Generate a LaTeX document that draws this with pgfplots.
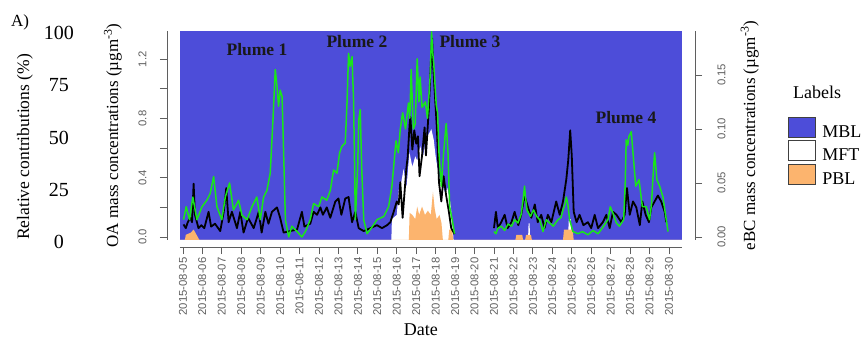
\documentclass[border=0pt]{standalone}
\usepackage{fontspec}
\setmainfont{Liberation Serif}
\setsansfont{Liberation Sans}
\usepackage{pgfplots}
\usepackage{pgfplotstable}
\pgfplotsset{compat=1.18}
\definecolor{mbl}{RGB}{77,77,217}
\definecolor{pbl}{RGB}{252,180,110}
\definecolor{ebc}{RGB}{25,230,25}
\definecolor{axg}{RGB}{95,95,95}

\pgfplotstableread{
d v
0.03 0.016
0.17 0.028
0.34 0.016
0.51 0.037
0.72 0.016
0.98 0.028
1.23 0.034
1.40 0.040
1.58 0.056
1.75 0.028
2.00 0.016
2.18 0.037
2.40 0.050
2.60 0.025
2.86 0.034
3.04 0.020
3.30 0.016
3.55 0.028
3.80 0.037
3.98 0.016
4.15 0.037
4.32 0.043
4.49 0.059
4.63 0.108
4.75 0.155
4.84 0.139
4.92 0.121
5.00 0.136
5.10 0.130
5.18 0.078
5.27 0.016
5.44 0.000
5.60 0.010
5.87 0.005
6.12 0.000
6.30 0.005
6.55 0.016
6.72 0.031
6.98 0.028
7.15 0.037
7.40 0.034
7.58 0.043
7.75 0.062
7.92 0.059
8.06 0.078
8.18 0.084
8.35 0.087
8.44 0.124
8.52 0.170
8.60 0.158
8.70 0.167
8.78 0.124
8.87 0.016
8.99 0.065
9.04 0.108
9.12 0.118
9.20 0.062
9.30 0.016
9.47 0.003
9.72 0.009
9.98 0.016
10.33 0.019
10.58 0.028
10.75 0.047
10.87 0.071
10.96 0.089
11.08 0.078
11.18 0.100
11.30 0.115
11.45 0.100
11.60 0.124
11.67 0.110
11.74 0.155
11.85 0.100
11.95 0.105
12.05 0.165
12.14 0.125
12.20 0.148
12.30 0.120
12.47 0.125
12.58 0.110
12.65 0.130
12.72 0.150
12.79 0.190
12.85 0.170
12.90 0.161
13.03 0.122
13.10 0.115
13.17 0.078
13.29 0.047
13.41 0.078
13.54 0.105
13.63 0.080
13.72 0.028
13.85 0.016
13.97 0.003
15.00 nan
16.00 0.005
16.10 0.003
16.20 0.008
16.37 0.010
16.55 0.006
16.72 0.012
16.90 0.010
17.06 0.016
17.23 0.013
17.40 0.021
17.50 0.035
17.57 0.047
17.63 0.035
17.70 0.025
17.87 0.019
18.03 0.025
18.20 0.019
18.35 0.016
18.52 0.005
18.69 0.016
18.86 0.013
19.05 0.010
19.29 0.016
19.45 0.018
19.55 0.025
19.65 0.030
19.72 0.037
19.80 0.030
19.89 0.016
20.06 0.005
20.32 0.003
20.55 0.005
20.83 0.002
21.09 0.006
21.35 0.003
21.60 0.009
21.86 0.016
21.98 0.028
22.12 0.022
22.29 0.013
22.45 0.010
22.67 0.016
22.75 0.050
22.80 0.090
22.88 0.085
22.94 0.093
23.06 0.0975
23.15 0.078
23.29 0.047
23.46 0.053
23.63 0.028
23.83 0.028
24.00 0.016
24.10 0.030
24.18 0.056
24.26 0.078
24.38 0.053
24.52 0.047
24.69 0.037
24.86 0.016
24.95 0.005
}\ebcdata

\pgfplotstableread{
d v
0.03 0.085
0.15 0.06
0.25 0.10
0.38 0.13
0.47 0.10
0.55 0.36
0.62 0.15
0.80 0.06
0.95 0.08
1.10 0.06
1.32 0.17
1.45 0.07
1.65 0.09
1.92 0.04
2.10 0.17
2.23 0.33
2.35 0.10
2.52 0.17
2.78 0.06
2.95 0.17
3.12 0.03
3.35 0.13
3.64 0.06
3.90 0.17
4.05 0.03
4.24 0.17
4.40 0.09
4.58 0.17
4.84 0.20
5.00 0.13
5.18 0.03
5.50 0.04
5.87 0.05
6.12 0.17
6.25 0.07
6.55 0.09
6.72 0.17
6.90 0.15
7.07 0.20
7.20 0.15
7.40 0.20
7.58 0.13
7.84 0.24
8.00 0.26
8.15 0.15
8.35 0.26
8.52 0.27
8.70 0.10
8.87 0.17
9.04 0.06
9.30 0.04
9.64 0.06
9.98 0.08
10.24 0.06
10.50 0.08
10.67 0.10
10.84 0.17
11.00 0.24
11.10 0.22
11.18 0.37
11.30 0.13
11.49 0.46
11.56 0.54
11.66 0.76
11.70 0.81
11.80 0.59
11.90 0.72
12.00 0.63
12.09 0.68
12.17 0.41
12.30 0.55
12.43 0.74
12.50 0.55
12.65 0.87
12.79 1.29
12.82 1.34
12.86 1.18
12.96 0.96
13.06 0.74
13.17 0.37
13.29 0.24
13.41 0.41
13.54 0.28
13.68 0.17
13.80 0.06
13.97 0.02
15.00 nan
16.00 0.06
16.10 0.17
16.20 0.06
16.37 0.10
16.55 0.15
16.70 0.06
16.90 0.10
17.06 0.17
17.25 0.08
17.40 0.15
17.57 0.28
17.75 0.20
17.92 0.13
18.10 0.22
18.25 0.10
18.43 0.15
18.60 0.06
18.77 0.15
18.95 0.10
19.20 0.24
19.38 0.15
19.55 0.24
19.72 0.39
19.82 0.52
19.92 0.72
20.00 0.55
20.10 0.17
20.25 0.10
20.40 0.15
20.60 0.08
20.83 0.10
21.00 0.06
21.18 0.15
21.35 0.06
21.60 0.10
21.78 0.15
21.95 0.06
22.12 0.17
22.30 0.15
22.55 0.10
22.72 0.15
22.84 0.33
22.98 0.15
23.15 0.24
23.32 0.20
23.50 0.08
23.63 0.24
23.80 0.15
23.97 0.10
24.09 0.20
24.26 0.24
24.43 0.28
24.60 0.24
24.78 0.17
24.86 0.10
}\oadata

\pgfplotstableread{
d p
-0.15 0
10.72 0
10.75 10
11.00 12
11.10 24
11.20 26
11.35 34
11.50 25
11.65 42
11.80 35
11.95 40
12.05 38
12.20 45
12.35 40
12.50 48
12.60 50
12.78 53
12.90 48
13.00 40
13.10 34
13.25 28
13.40 25
13.50 22
13.60 25
13.75 18
13.85 10
13.92 0
17.75 0
17.78 8
17.83 8
17.86 0
19.80 0
19.85 10
19.95 10
20.00 0
25.67 0
}\mftdata

\pgfplotstableread{
d p
-0.15 0
0.10 0
0.15 2.5
0.40 3.5
0.55 5
0.70 2.5
0.85 0
11.62 0
11.66 13
11.80 12
11.95 10
12.05 16
12.15 12
12.30 16
12.45 12
12.60 14
12.75 12
12.86 23
12.95 15
13.05 10
13.20 12
13.30 8
13.37 0
13.65 0
13.70 5
13.85 5
13.90 0
17.10 0
17.15 2.5
17.45 2.5
17.50 0
17.60 0
17.65 2.5
17.90 2.5
17.95 0
19.55 0
19.60 5
20.05 5
20.10 0
25.67 0
}\pbldata

\begin{document}
\begin{tikzpicture}
\useasboundingbox (0,0) rectangle (863pt,343pt);
\pgfplotsset{
  common/.style={at={(180pt,103pt)}, anchor=south west, scale only axis,
    width=502pt, height=209pt, xmin=-0.15, xmax=25.67, clip mode=individual,
    tick align=outside, major tick length=7pt,
    /pgf/number format/assume math mode=true},
  ticksans/.style={font=\sffamily\fontsize{11.3}{12}\selectfont, text=axg},
}
\node at (20pt,321pt) {\fontsize{17}{17}\selectfont A)};
% ---- Axis 1: relative contributions, dates
\begin{axis}[common, ymin=0, ymax=100,
  axis x line*=bottom, axis y line*=left,
  axis x line shift=7pt,
  x axis line style={draw=axg, line width=0.8pt, -},
  y axis line style={draw=none, -},
  xtick={0,...,25},
  xticklabels={2015-08-05,2015-08-06,2015-08-07,2015-08-08,2015-08-09,2015-08-10,2015-08-11,2015-08-12,2015-08-13,2015-08-14,2015-08-15,2015-08-16,2015-08-17,2015-08-18,2015-08-19,2015-08-20,2015-08-21,2015-08-22,2015-08-23,2015-08-24,2015-08-25,2015-08-26,2015-08-27,2015-08-28,2015-08-29,2015-08-30},
  x tick label style={ticksans, rotate=90, anchor=east},
  x tick style={draw=axg, line width=0.8pt},
  ytick={0,25,50,75,100}, y tick style={draw=none},
  y tick label style={anchor=center, xshift=-114pt, yshift=-2pt, font=\fontsize{20}{20}\selectfont},
  xlabel={Date},
  xlabel style={at={(rel axis cs:0.48,-0.43)}, anchor=center, font=\fontsize{18}{19}\selectfont},
  ylabel={Relative contributions (\%)},
  ylabel style={at={(rel axis cs:-0.309,0.445)}, anchor=center, rotate=0, font=\fontsize{17.5}{18}\selectfont},
  legend style={at={(rel axis cs:1.211,0.591)}, anchor=north west, draw=none, fill=none,
    font=\fontsize{18}{18}\selectfont, row sep=0pt, inner sep=0pt, nodes={inner sep=1.5pt},
    /tikz/every odd column/.append style={column sep=5pt}},
  legend cell align=left,
  legend image code/.code={\draw[#1, draw=black!75, line width=0.8pt] (0pt,-5pt) rectangle (27pt,15pt);},
]
\addplot[fill=mbl, draw=none] coordinates {(-0.15,100) (25.67,100)} \closedcycle;
\addlegendentry{MBL}
\addplot[fill=white, draw=none] table[x=d, y=p] {\mftdata} \closedcycle;
\addlegendentry{MFT}
\addplot[fill=pbl, draw=none] table[x=d, y=p] {\pbldata} \closedcycle;
\addlegendentry{PBL}
\node[font=\bfseries\fontsize{17.5}{18}\selectfont, text=black!90] at (axis cs:3.81,91.2) {Plume 1};
\node[font=\bfseries\fontsize{17.5}{18}\selectfont, text=black!90] at (axis cs:8.95,95.1) {Plume 2};
\node[font=\bfseries\fontsize{17.5}{18}\selectfont, text=black!90] at (axis cs:14.76,95.1) {Plume 3};
\node[font=\bfseries\fontsize{17.5}{18}\selectfont, text=black!90] at (axis cs:22.79,58.5) {Plume 4};
\node[font=\fontsize{18}{18}\selectfont] at (rel axis cs:1.269,0.708) {Labels};
\end{axis}
% ---- Axis 2: OA
\begin{axis}[common, ymin=-0.02, ymax=1.39,
  axis x line=none, axis y line*=left, axis y line shift=13pt,
  y axis line style={draw=axg, line width=0.8pt, -},
  y tick style={draw=axg, line width=0.8pt},
  ytick={0,0.2,0.4,0.6,0.8,1.0,1.2},
  yticklabels={0.0,,0.4,,0.8,,1.2},
  y tick label style={ticksans, xshift=-10pt, rotate=90, anchor=south},
  ylabel={OA mass concentrations (µgm\textsuperscript{-3})},
  ylabel style={at={(rel axis cs:-0.1335,0.5)}, anchor=center, font=\fontsize{17}{18}\selectfont},
  unbounded coords=jump,
]
\addplot[black, line width=1.8pt, line join=round] table[x=d, y=v] {\oadata};
\end{axis}
% ---- Axis 3: eBC
\begin{axis}[common, ymin=-0.0028, ymax=0.1907,
  axis x line=none, axis y line*=right, axis y line shift=13pt,
  y axis line style={draw=axg, line width=0.8pt, -},
  y tick style={draw=axg, line width=0.8pt},
  ytick={0,0.05,0.1,0.15},
  yticklabels={0.00,0.05,0.10,0.15},
  y tick label style={ticksans, xshift=12pt, rotate=90, anchor=north},
  ylabel={eBC mass concentrations (µgm\textsuperscript{-3})},
  ylabel style={at={(rel axis cs:1.135,0.5)}, anchor=center, font=\fontsize{17}{18}\selectfont},
  unbounded coords=jump,
]
\addplot[ebc, line width=1.5pt, line join=round] table[x=d, y=v] {\ebcdata};
\end{axis}
\end{tikzpicture}
\end{document}
